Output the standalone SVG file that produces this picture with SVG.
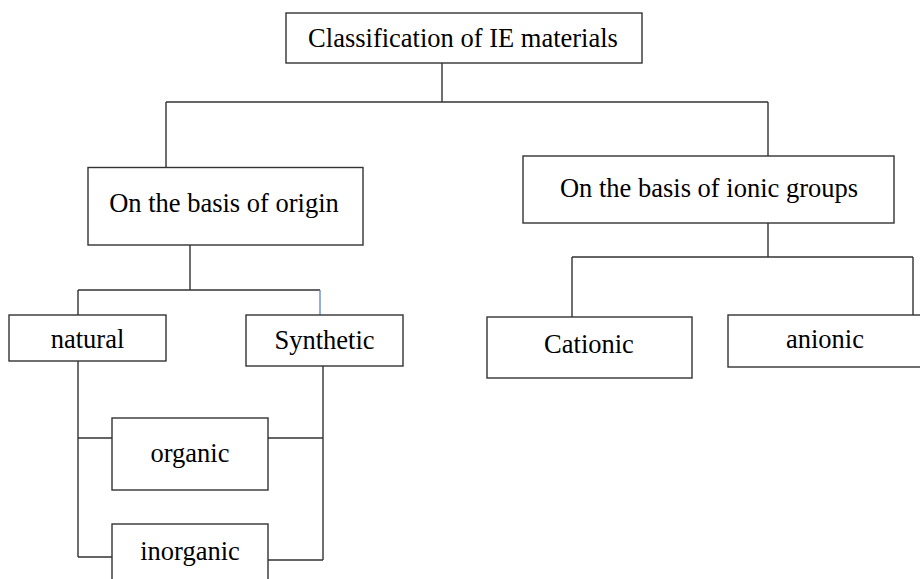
<svg xmlns="http://www.w3.org/2000/svg" width="920" height="579" viewBox="0 0 920 579">
<style>
.box{fill:#fff;stroke:#333;stroke-width:1.4}
.lbl{font-family:"Liberation Serif","Times New Roman",serif;font-size:26.5px;fill:#000;text-anchor:middle}
.ln{fill:none;stroke:#333;stroke-width:1.4}
.blue{fill:none;stroke:#4a7cc4;stroke-width:1.2}
</style>
<rect width="920" height="579" fill="#fff"/>
<g id="connectors">
<path class="ln" d="M442,63V102M166,102H768M166,102V167.5M768,102V156"/>
<path class="ln" d="M190,245V290M78,290H320M78,290V315"/>
<path class="blue" d="M320,290V315"/>
<path class="ln" d="M78,361V557M78,438H112M78,557H112"/>
<path class="ln" d="M323,366V560M268,438H323M268,560H323"/>
<path class="ln" d="M768,223V257M572,257H913M572,257V317M913,257V315"/>
</g>
<g id="root"><rect class="box" x="286" y="13" width="356" height="50"/><text class="lbl" x="463" y="47">Classification of IE materials</text></g>
<g id="origin"><rect class="box" x="88" y="167.5" width="275" height="77.5"/><text class="lbl" x="224" y="212">On the basis of origin</text></g>
<g id="ionic"><rect class="box" x="523" y="156" width="371" height="67"/><text class="lbl" x="709" y="197">On the basis of ionic groups</text></g>
<g id="natural"><rect class="box" x="9" y="315" width="157" height="46"/><text class="lbl" x="87.5" y="348">natural</text></g>
<g id="synthetic"><rect class="box" x="246" y="315" width="157" height="51"/><text class="lbl" x="324.5" y="349">Synthetic</text></g>
<g id="organic"><rect class="box" x="112" y="418" width="156" height="72"/><text class="lbl" x="190" y="462">organic</text></g>
<g id="inorganic"><rect class="box" x="112" y="524" width="156" height="70"/><text class="lbl" x="190" y="560">inorganic</text></g>
<g id="cationic"><rect class="box" x="487" y="317" width="205" height="61"/><text class="lbl" x="589" y="353">Cationic</text></g>
<g id="anionic"><rect class="box" x="728" y="315" width="196" height="52"/><text class="lbl" x="825" y="348">anionic</text></g>
</svg>
